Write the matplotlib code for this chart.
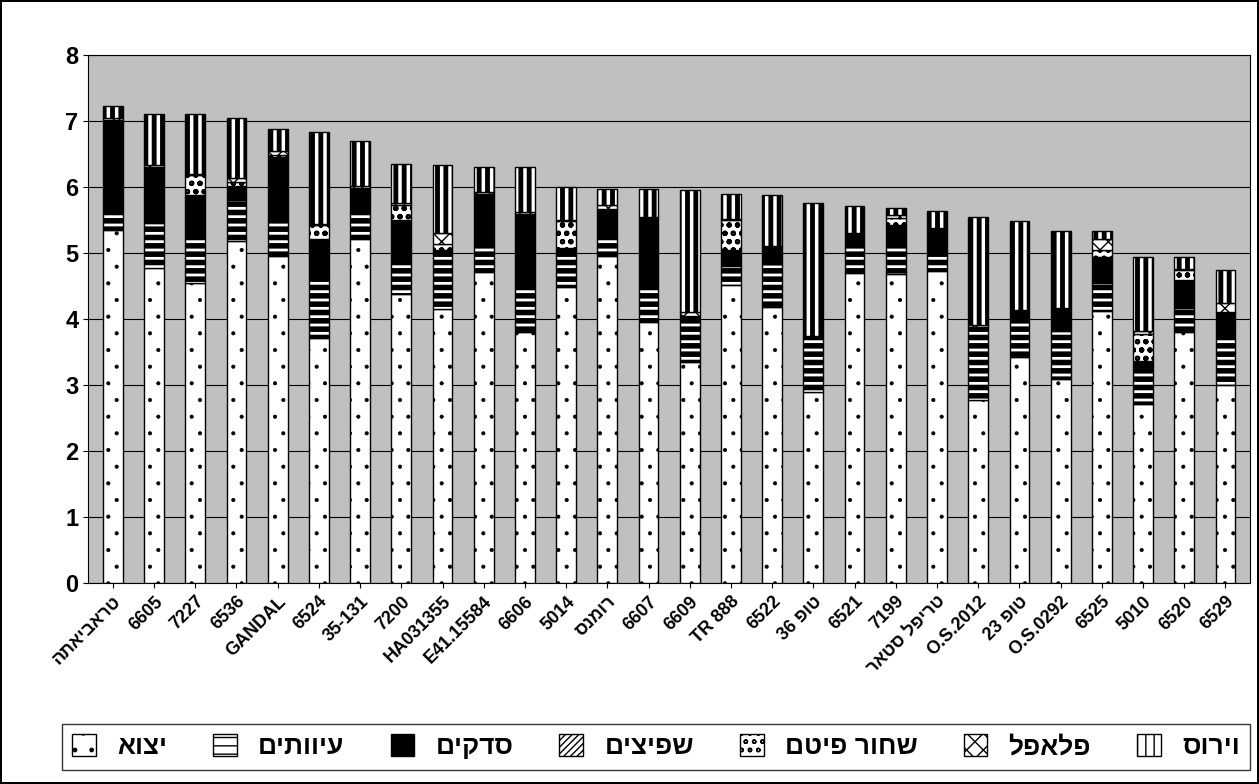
import matplotlib
matplotlib.use('Agg')
import matplotlib.pyplot as plt
import numpy as np

plt.rcParams['font.family'] = ['Liberation Sans', 'DejaVu Sans']
plt.rcParams['font.weight'] = 'bold'


def vis(s):
    # crude bidi: only touch strings containing hebrew
    if not any('\u0590' <= c <= '\u05ff' for c in s):
        return s
    out = []
    for w in s.split(' ')[::-1]:
        if any('\u0590' <= c <= '\u05ff' for c in w):
            out.append(w[::-1])
        else:
            out.append(w)
    return ' '.join(out)


labels = ['טראביאתה', '6605', '7227', '6536', 'GANDAL', '6524', '35-131', '7200',
          'HA031355', 'E41.15584', '6606', '5014', 'רומנס', '6607', '6609', 'TR 888',
          '6522', 'טופ 36', '6521', '7199', 'טריפל סטאר', 'O.S.2012', 'טופ 23',
          'O.S.0292', '6525', '5010', '6520', '6529']

yetzu = [5.35, 4.78, 4.55, 5.18, 4.95, 3.72, 5.22, 4.38, 4.15, 4.72, 3.80, 4.48, 4.95, 3.95,
         3.35, 4.52, 4.18, 2.90, 4.70, 4.68, 4.73, 2.78, 3.42, 3.10, 4.12, 2.72, 3.80, 3.00]
ivutim = [0.30, 0.68, 0.68, 0.62, 0.57, 0.93, 0.40, 0.52, 0.84, 0.40, 0.72, 0.52, 0.32, 0.55,
          0.65, 0.28, 0.65, 0.82, 0.42, 0.45, 0.25, 1.05, 0.60, 0.72, 0.42, 0.55, 0.37, 0.77]
sdakim = [1.33, 0.82, 0.65, 0.22, 0.93, 0.57, 0.37, 0.60, 0.05, 0.78, 1.07, 0.08, 0.40, 1.05,
          0.05, 0.25, 0.27, 0.03, 0.17, 0.30, 0.38, 0.05, 0.12, 0.35, 0.40, 0.10, 0.42, 0.33]
shpitzim = [0.02, 0.02, 0.0, 0.0, 0.0, 0.0, 0.0, 0.0, 0.0, 0.0, 0.0, 0.0, 0.0, 0.0,
            0.0, 0.0, 0.0, 0.0, 0.0, 0.0, 0.0, 0.0, 0.0, 0.0, 0.0, 0.0, 0.0, 0.0]
shachor = [0.02, 0.0, 0.30, 0.05, 0.03, 0.20, 0.0, 0.22, 0.10, 0.0, 0.0, 0.40, 0.0, 0.0,
           0.0, 0.45, 0.0, 0.0, 0.0, 0.10, 0.0, 0.0, 0.0, 0.0, 0.10, 0.40, 0.15, 0.0]
falafel = [0.02, 0.03, 0.02, 0.07, 0.07, 0.02, 0.02, 0.03, 0.16, 0.02, 0.03, 0.02, 0.05, 0.0,
           0.05, 0.02, 0.0, 0.0, 0.02, 0.05, 0.02, 0.03, 0.0, 0.0, 0.18, 0.05, 0.02, 0.15]
virus = [0.18, 0.78, 0.90, 0.90, 0.33, 1.40, 0.68, 0.60, 1.03, 0.38, 0.68, 0.50, 0.25, 0.42,
         1.85, 0.38, 0.78, 2.00, 0.40, 0.10, 0.25, 1.63, 1.35, 1.17, 0.12, 1.12, 0.18, 0.50]

series = [('יצוא', yetzu, 'white', '.', 0.5),
          ('עיוותים', ivutim, 'white', '--', 4.0),
          ('סדקים', sdakim, 'black', '', 1.0),
          ('שפיצים', shpitzim, 'white', '/////', 1.0),
          ('שחור פיטם', shachor, 'white', 'oo', 1.5),
          ('פלאפל', falafel, 'white', 'xx', 1.0),
          ('וירוס', virus, 'white', '||', 3.5)]

fig = plt.figure(figsize=(12.59, 7.84), dpi=100)
fig.patch.set_edgecolor('black')
fig.patch.set_linewidth(1.5)
ax = fig.add_axes([0.07, 0.256, 0.923, 0.674])
ax.set_facecolor('#c0c0c0')

x = np.arange(len(labels))
bottom = np.zeros(len(labels))
for name, vals, fc, hatch, hlw in series:
    with plt.rc_context({'hatch.linewidth': hlw, 'hatch.color': 'black'}):
        ax.bar(x, vals, 0.48, bottom=bottom, color=fc, edgecolor='black',
               hatch=hatch, linewidth=1, label=vis(name), zorder=3)
    bottom += np.array(vals)

ax.set_ylim(0, 8)
ax.set_xlim(-0.6, len(labels) - 0.4)
ax.set_yticks(range(9))
ax.yaxis.grid(True, color='black', linewidth=0.8, zorder=0)
ax.set_xticks(x)
ax.set_xticklabels([vis(l) for l in labels], rotation=45, ha='right',
                   rotation_mode='anchor', fontsize=13, fontweight='bold')
ax.tick_params(axis='y', labelsize=17)
for lab in ax.get_yticklabels():
    lab.set_fontweight('bold')

fig.legend(loc='lower left', bbox_to_anchor=(0.049, 0.018, 0.944, 0.068), mode='expand',
           ncol=7, fancybox=False, edgecolor='black', prop={'size': 19, 'weight': 'bold'},
           handlelength=0.9, handleheight=0.9, borderaxespad=0)

fig.savefig('out.png', dpi=100, edgecolor=fig.get_edgecolor())
